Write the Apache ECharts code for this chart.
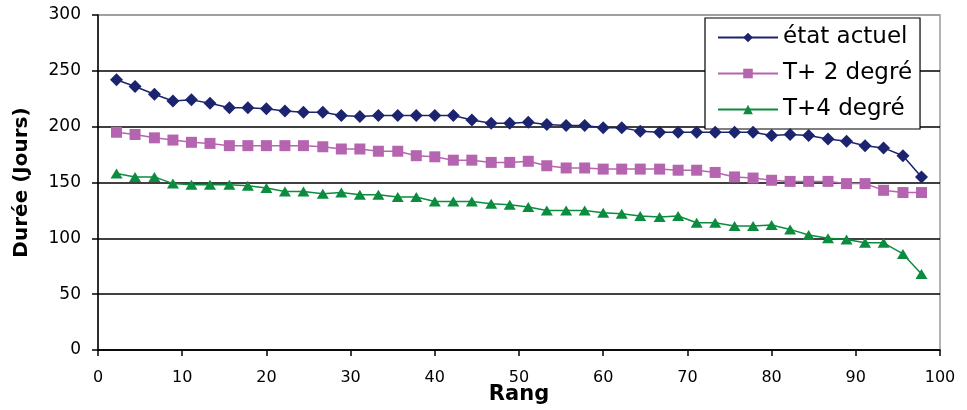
<!DOCTYPE html>
<html>
<head>
<meta charset="utf-8">
<script src="https://cdn.jsdelivr.net/npm/echarts@6/dist/echarts.min.js"></script>
<style>
html,body{margin:0;padding:0;background:#fff;}
#chart{width:967px;height:410px;}
</style>
</head>
<body>
<div id="chart"></div>
<script>
var ranks = [2.2, 4.4, 6.7, 8.9, 11.1, 13.3, 15.6, 17.8, 20.0, 22.2, 24.4, 26.7, 28.9, 31.1, 33.3, 35.6, 37.8, 40.0, 42.2, 44.4, 46.7, 48.9, 51.1, 53.3, 55.6, 57.8, 60.0, 62.2, 64.4, 66.7, 68.9, 71.1, 73.3, 75.6, 77.8, 80.0, 82.2, 84.4, 86.7, 88.9, 91.1, 93.3, 95.6, 97.8];
var etatActuel = [242, 236, 229, 223, 224, 221, 217, 217, 216, 214, 213, 213, 210, 209, 210, 210, 210, 210, 210, 206, 203, 203, 204, 202, 201, 201, 199, 199, 196, 195, 195, 195, 195, 195, 195, 192, 193, 192, 189, 187, 183, 181, 174, 155];
var tPlus2 = [195, 193, 190, 188, 186, 185, 183, 183, 183, 183, 183, 182, 180, 180, 178, 178, 174, 173, 170, 170, 168, 168, 169, 165, 163, 163, 162, 162, 162, 162, 161, 161, 159, 155, 154, 152, 151, 151, 151, 149, 149, 143, 141, 141];
var tPlus4 = [158, 155, 155, 149, 148, 148, 148, 147, 145, 142, 142, 140, 141, 139, 139, 137, 137, 133, 133, 133, 131, 130, 128, 125, 125, 125, 123, 122, 120, 119, 120, 114, 114, 111, 111, 112, 108, 103, 100, 99, 96, 96, 86, 68];
var seriesNames = ['état actuel', 'T+ 2 degré', 'T+4 degré'];
var yTicks = [0, 50, 100, 150, 200, 250, 300];
var xTicks = [0, 10, 20, 30, 40, 50, 60, 70, 80, 90, 100];

function pairs(ys) { return ranks.map(function (x, i) { return [x, ys[i]]; }); }

var chart = echarts.init(document.getElementById('chart'), null, {renderer: 'canvas'});
var FONT = 'DejaVu Sans';
chart.setOption({
  animation: false,
  backgroundColor: '#ffffff',
  textStyle: {fontFamily: FONT},
  grid: {left: 98, right: 27, top: 15, bottom: 60, show: true, borderColor: '#9a9a9a', borderWidth: 1.5,
    containLabel: false, outerBoundsMode: 'none'},
  xAxis: {
    type: 'value', min: 0, max: 100, interval: 10,
    name: 'Rang', nameLocation: 'middle', nameGap: 34, nameMoveOverlap: false,
    nameTextStyle: {fontFamily: FONT, fontWeight: 'bold', fontSize: 21, color: '#000'},
    axisLine: {show: true, onZero: false, lineStyle: {color: '#000', width: 1.5}},
    axisTick: {show: true, inside: false, length: 6, lineStyle: {color: '#000', width: 1.5}},
    axisLabel: {fontFamily: FONT, fontSize: 16, color: '#000', margin: 20,
      formatter: function (v) { return xTicks.indexOf(v) >= 0 ? String(v) : ''; }},
    splitLine: {show: false}
  },
  yAxis: {
    type: 'value', min: 0, max: 300, interval: 50,
    name: 'Durée (Jours)', nameLocation: 'middle', nameGap: 66, nameRotate: 90, nameMoveOverlap: false,
    nameTextStyle: {fontFamily: FONT, fontWeight: 'bold', fontSize: 20, color: '#000'},
    axisLine: {show: true, lineStyle: {color: '#000', width: 1.5}},
    axisTick: {show: true, inside: false, length: 6, lineStyle: {color: '#000', width: 1.5}},
    axisLabel: {fontFamily: FONT, fontSize: 17, color: '#000', margin: 17,
      formatter: function (v) { return yTicks.indexOf(v) >= 0 ? String(v) : ''; }},
    splitLine: {show: true, lineStyle: {color: ['#000', '#000', '#000', '#000', '#000', '#000', '#9a9a9a'], width: 1.5}}
  },
  legend: {
    show: true, orient: 'vertical', left: 705, top: 18,
    padding: [8, 8, 8, 12], itemGap: 13, itemWidth: 60, itemHeight: 12,
    backgroundColor: '#fff', borderColor: '#000', borderWidth: 1.2, borderRadius: 0,
    textStyle: {fontFamily: FONT, fontSize: 23, color: '#000'},
    data: seriesNames
  },
  series: [
    {name: seriesNames[0], type: 'line', data: pairs(etatActuel), symbol: 'diamond', symbolSize: [13, 13],
      itemStyle: {color: '#1c2470'}, lineStyle: {color: '#1c2470', width: 1.5}, z: 4},
    {name: seriesNames[1], type: 'line', data: pairs(tPlus2), symbol: 'rect', symbolSize: 11,
      itemStyle: {color: '#b565b0'}, lineStyle: {color: '#b565b0', width: 1.5}, z: 3},
    {name: seriesNames[2], type: 'line', data: pairs(tPlus4), symbol: 'triangle', symbolSize: [12, 10],
      itemStyle: {color: '#0b8c3e'}, lineStyle: {color: '#0b8c3e', width: 1.5}, z: 2}
  ]
});
</script>
</body>
</html>
